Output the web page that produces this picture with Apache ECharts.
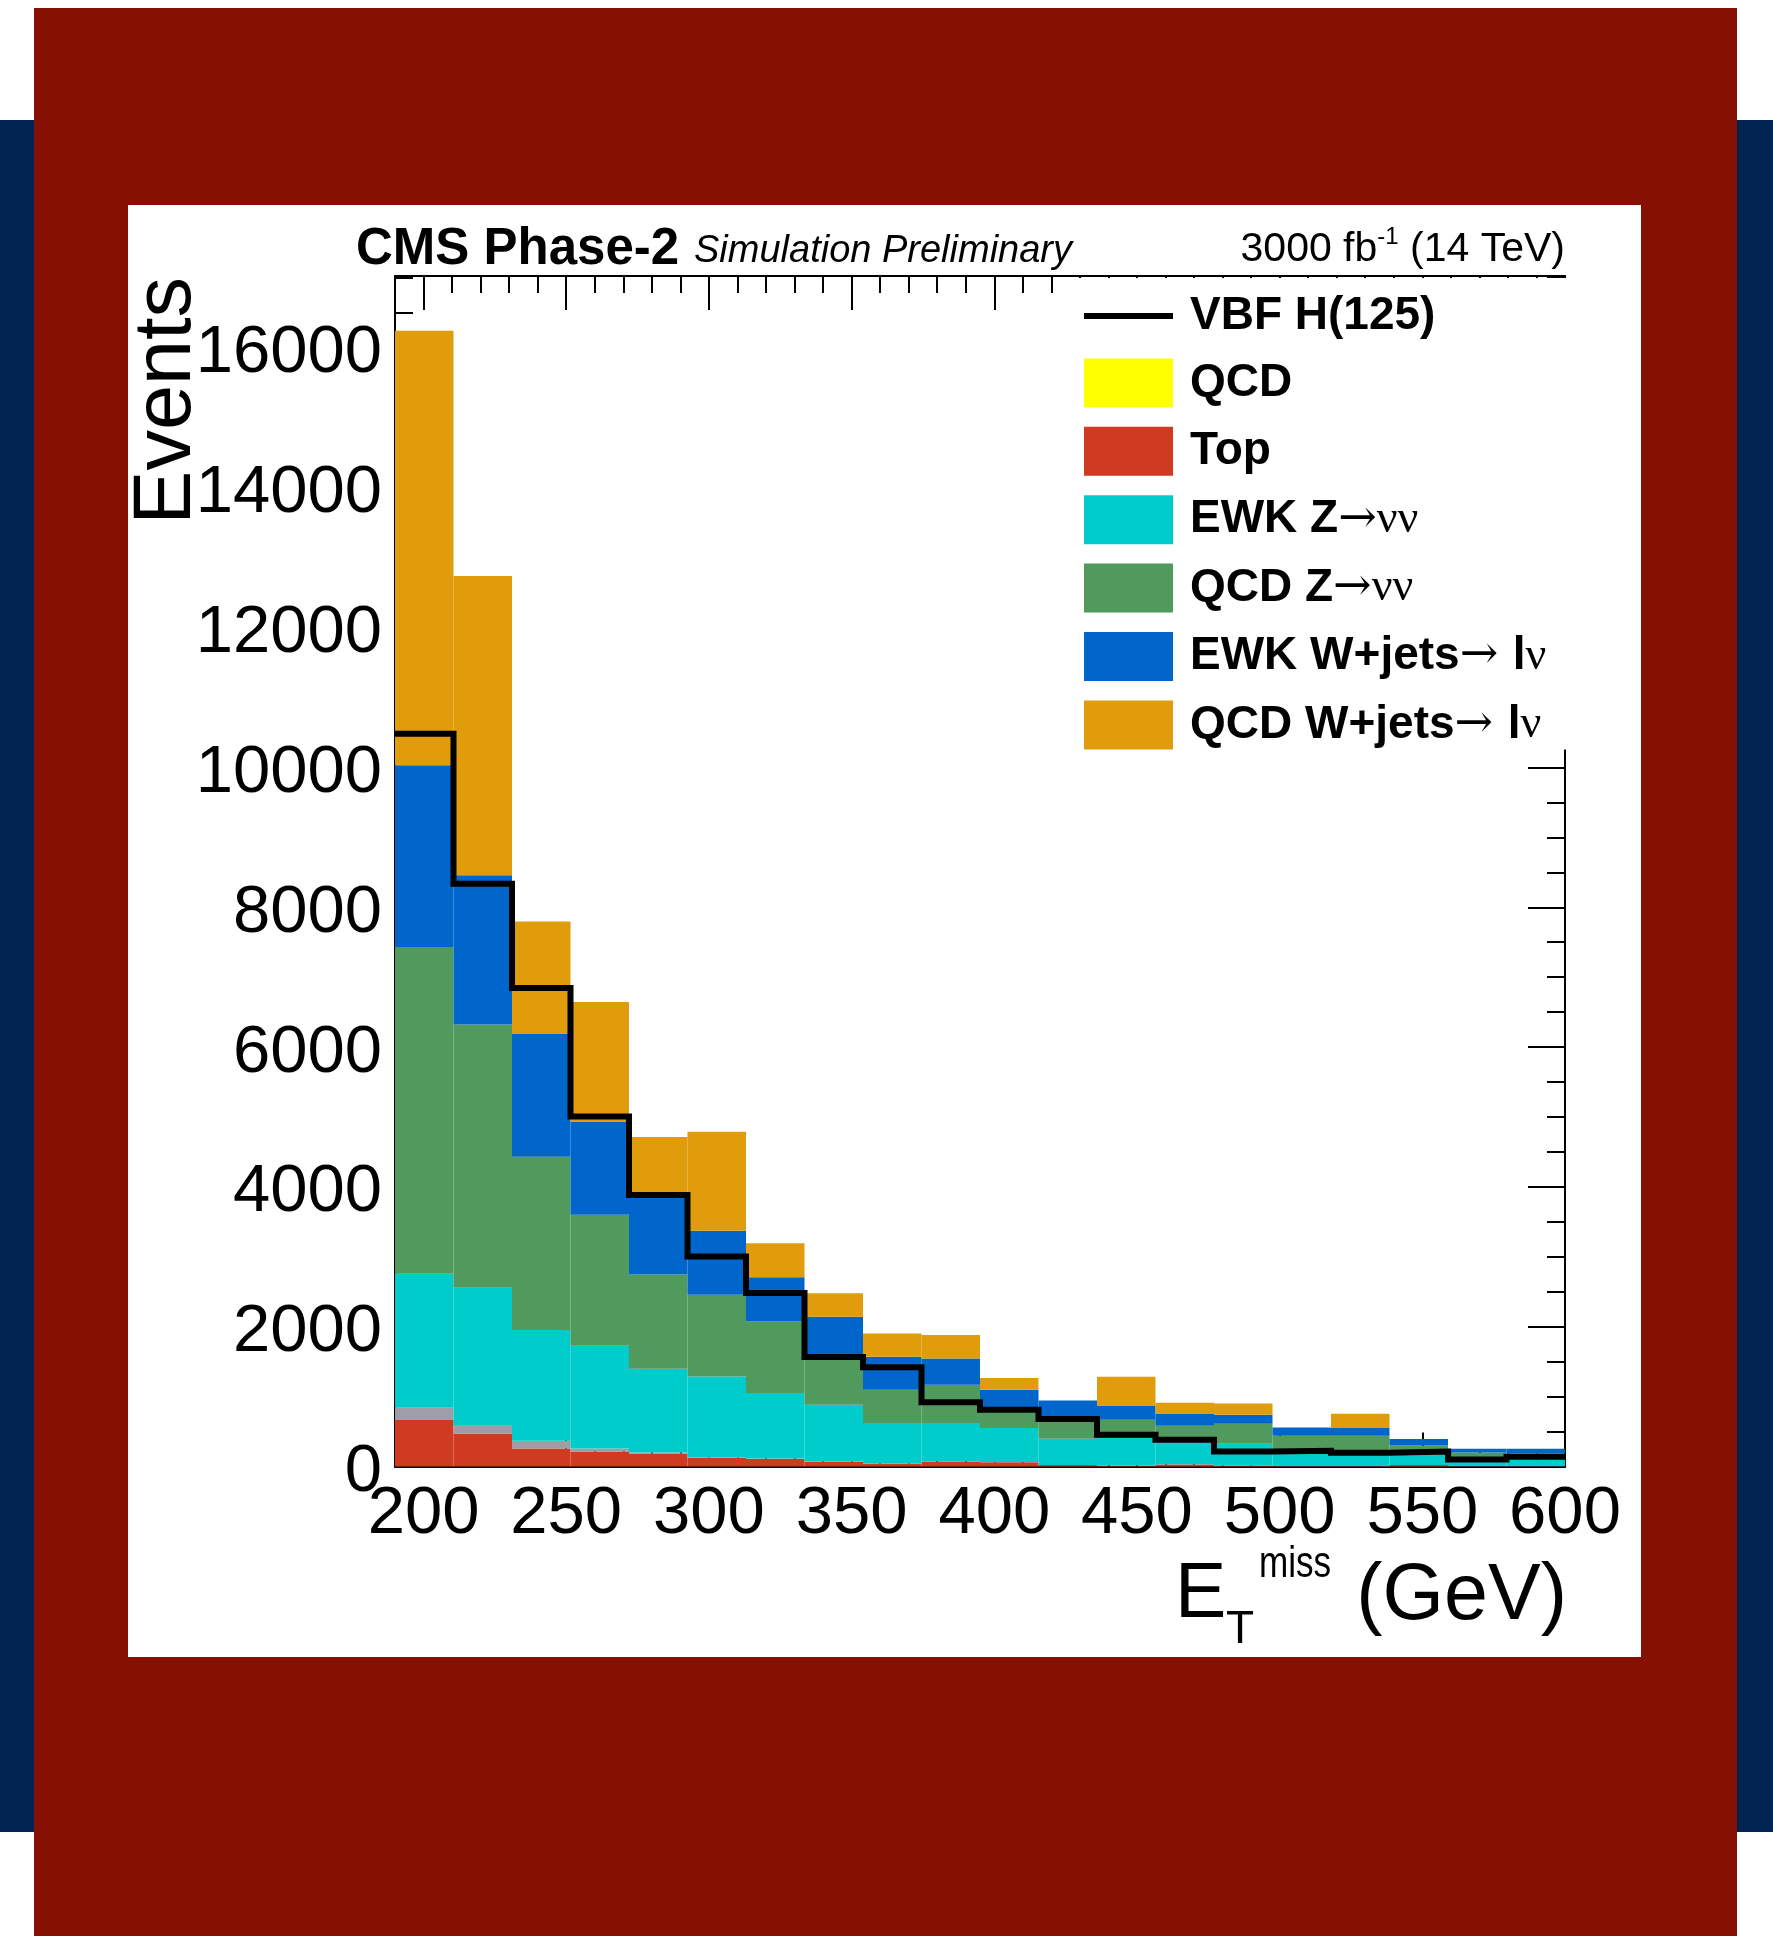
<!DOCTYPE html>
<html>
<head>
<meta charset="utf-8">
<script src="https://cdn.jsdelivr.net/npm/echarts@6/dist/echarts.min.js"></script>
<style>
html,body{margin:0;padding:0;background:#fff;width:1773px;height:1936px;overflow:hidden}
.b{position:absolute}
#chart{position:absolute;left:0;top:0;width:1773px;height:1936px}
</style>
</head>
<body>
<div class="b" style="left:0;top:120px;width:34px;height:1712px;background:#00244F"></div>
<div class="b" style="left:1737px;top:120px;width:36px;height:1712px;background:#00244F"></div>
<div class="b" style="left:34px;top:8px;width:1703px;height:1928px;background:#861002"></div>
<div class="b" style="left:128px;top:205px;width:1513px;height:1452px;background:#fff"></div>
<div id="chart"></div>
<script>
// ---- data ----
const binEdges = [190, 210.5, 231, 251.5, 272, 292.5, 313, 333.5, 354, 374.5, 395,
                  415.5, 436, 456.5, 477, 497.5, 518, 538.5, 559, 579.5, 600];
const topVals   = [664, 473, 258, 215, 186, 120, 106, 72, 35, 72, 62, 20, 15, 30, 10, 5, 5, 20, 3, 3];
const otherVals = [176, 119, 110, 43, 14, 14, 9, 6, 5, 4, 3, 2, 3, 2, 2, 1, 1, 2, 1, 1];
const ewkZVals  = [1919, 1966, 1584, 1470, 1199, 1155, 936, 805, 581, 545, 484, 375, 388, 312, 313, 244, 224, 145, 106, 101];
const qcdZVals  = [4674, 3763, 2478, 1872, 1346, 1169, 1025, 687, 477, 549, 229, 283, 263, 239, 286, 190, 210, 134, 91, 86];
const ewkWVals  = [2600, 2137, 1758, 1336, 1125, 913, 630, 573, 472, 376, 320, 265, 205, 167, 129, 119, 119, 91, 52, 62];
const qcdWVals  = [6213, 4281, 1607, 1710, 843, 1418, 488, 334, 334, 335, 167, 0, 410, 162, 162, 0, 195, 0, 0, 0];
const qcdVals   = [0, 0, 0, 0, 0, 0, 0, 0, 0, 0, 0, 0, 0, 0, 0, 0, 0, 0, 0, 0];
const signalVals = [10482, 8335, 6846, 5008, 3884, 3004, 2482, 1566, 1420, 919, 812, 678, 454, 382, 215, 225, 195, 215, 100, 140];
const xTickValues = [200, 250, 300, 350, 400, 450, 500, 550, 600];
const yTickValues = [0, 2000, 4000, 6000, 8000, 10000, 12000, 14000, 16000];
const Y_MAX = 17030;

// ---- build ----
const categories = binEdges.slice(0, -1).map((e, i) => e + '-' + binEdges[i + 1]);
const signalData = binEdges.map((e, i) => [e, signalVals[Math.min(i, signalVals.length - 1)]]);

const FONT = '"Liberation Sans", Arial, Helvetica, sans-serif';
const SERIF = '"Liberation Serif", "DejaVu Serif", serif';
const ARROW = '"DejaVu Serif", "Liberation Serif", serif';

function barSeries(name, data, color) {
  return {
    name: name, type: 'bar', stack: 'bkg', data: data,
    xAxisIndex: 0, yAxisIndex: 0,
    barCategoryGap: '0%', barGap: '0%',
    itemStyle: { color: color, borderWidth: 0 },
    emphasis: { disabled: true }, silent: true
  };
}

const legendRich = {
  'VBF H(125)': '{b|VBF H(125)}',
  'QCD': '{b|QCD}',
  'Top': '{b|Top}',
  'EWK Z→νν': '{b|EWK Z}{a|→}{s|νν}',
  'QCD Z→νν': '{b|QCD Z}{a|→}{s|νν}',
  'EWK W+jets→ lν': '{b|EWK W+jets}{a|→ }{b|l}{s|ν}',
  'QCD W+jets→ lν': '{b|QCD W+jets}{a|→ }{b|l}{s|ν}'
};

const axisLineStyle = { color: '#000', width: 2 };
const tickStyle = { color: '#000', width: 2 };

function xAxisDef(pos, major) {
  const a = {
    type: 'value', min: 190, max: 600, position: pos,
    axisLine: { show: major, onZero: false, lineStyle: axisLineStyle },
    splitLine: { show: false },
    axisLabel: { show: false },
    axisTick: { show: true, inside: true, length: major ? 34 : 17, lineStyle: tickStyle }
  };
  if (major) {
    a.axisTick.customValues = xTickValues;
    if (pos === 'bottom') {
      a.axisLabel = {
        show: true, customValues: xTickValues, margin: 15,
        fontFamily: FONT, fontSize: 67, color: '#000',
        formatter: v => String(v)
      };
    }
  } else {
    a.interval = 10;
  }
  return a;
}

function yAxisDef(pos, major) {
  const a = {
    type: 'value', min: 0, max: Y_MAX, position: pos,
    axisLine: { show: major, onZero: false, lineStyle: axisLineStyle },
    splitLine: { show: false },
    axisLabel: { show: false },
    axisTick: { show: true, inside: true, length: major ? 37 : 18, lineStyle: tickStyle }
  };
  if (major) {
    a.axisTick.customValues = yTickValues;
    if (pos === 'left') {
      a.axisLabel = {
        show: true, customValues: yTickValues, margin: 13,
        fontFamily: FONT, fontSize: 67, color: '#000',
        verticalAlign: 'top', lineHeight: 12,
        formatter: v => String(v)
      };
    }
  } else {
    a.interval = 500;
  }
  return a;
}

const option = {
  animation: false,
  backgroundColor: 'transparent',
  grid: { left: 395, top: 276, width: 1170, height: 1190.5, containLabel: false },
  xAxis: [
    { type: 'category', data: categories, position: 'bottom', boundaryGap: true,
      axisLine: { show: false, onZero: false }, axisTick: { show: false }, axisLabel: { show: false }, splitLine: { show: false } },
    xAxisDef('bottom', true),
    xAxisDef('bottom', false),
    xAxisDef('top', true),
    xAxisDef('top', false)
  ],
  yAxis: [
    yAxisDef('left', true),
    yAxisDef('left', false),
    yAxisDef('right', true),
    yAxisDef('right', false)
  ],
  legend: {
    orient: 'vertical', left: 1077, top: 278,
    padding: [15, 20, 0, 7],
    backgroundColor: '#fff',
    itemWidth: 89, itemHeight: 49, itemGap: 19.4,
    icon: 'rect',
    selectedMode: false,
    data: [
      { name: 'VBF H(125)', icon: 'path://M0,0H100V6.5H0Z', itemStyle: { color: '#000', borderWidth: 0 } },
      'QCD', 'Top', 'EWK Z→νν', 'QCD Z→νν', 'EWK W+jets→ lν', 'QCD W+jets→ lν'
    ],
    formatter: n => legendRich[n] || ('{b|' + n + '}'),
    textStyle: {
      padding: [0, 0, 0, 12],
      rich: {
        b: { fontFamily: FONT, fontWeight: 'bold', fontSize: 46, lineHeight: 49, color: '#000' },
        s: { fontFamily: SERIF, fontWeight: 'normal', fontSize: 46, lineHeight: 49, color: '#000' },
        a: { fontFamily: ARROW, fontWeight: 'normal', fontSize: 46, lineHeight: 49, color: '#000' }
      }
    }
  },
  series: [
    barSeries('Top', topVals, '#CF3A21'),
    barSeries('Other', otherVals, '#9C9EA8'),
    barSeries('EWK Z→νν', ewkZVals, '#00CCCC'),
    barSeries('QCD Z→νν', qcdZVals, '#4F9A5C'),
    barSeries('EWK W+jets→ lν', ewkWVals, '#0066CC'),
    barSeries('QCD W+jets→ lν', qcdWVals, '#E09C0A'),
    barSeries('QCD', qcdVals, '#FFFF00'),
    {
      name: 'VBF H(125)', type: 'line', xAxisIndex: 1, yAxisIndex: 0,
      step: 'end', symbol: 'none', showSymbol: false, silent: true,
      data: signalData,
      itemStyle: { color: '#000' },
      lineStyle: { color: '#000', width: 6, join: 'miter', cap: 'butt' },
      emphasis: { disabled: true }, z: 5
    }
  ],
  graphic: [
    { type: 'text', x: 356, y: 250, silent: true,
      style: { text: 'CMS Phase-2', font: 'bold 51px ' + FONT, fill: '#000', align: 'left', verticalAlign: 'middle' } },
    { type: 'text', x: 694, y: 251, silent: true,
      style: { text: 'Simulation Preliminary', font: 'italic 38px ' + FONT, fill: '#000', align: 'left', verticalAlign: 'middle' } },
    { type: 'text', x: 1565, y: 250, silent: true,
      style: { text: '{n|3000 fb}{u|-1}{n| (14 TeV)}', align: 'right', verticalAlign: 'middle', fill: '#000',
        rich: {
          n: { fontFamily: FONT, fontSize: 41, lineHeight: 50, fill: '#000' },
          u: { fontFamily: FONT, fontSize: 24, lineHeight: 24, verticalAlign: 'top', fill: '#000' }
        } } },
    { type: 'text', x: 168, y: 277, rotation: Math.PI / 2, silent: true,
      style: { text: 'Events', font: '81px ' + FONT, fill: '#000', align: 'right', verticalAlign: 'middle' } },
    { type: 'text', x: 1175, y: 1596, silent: true,
      style: { text: 'E', font: '77px ' + FONT, fill: '#000', align: 'left', verticalAlign: 'middle' } },
    { type: 'text', x: 1226, y: 1630, silent: true,
      style: { text: 'T', font: '46px ' + FONT, fill: '#000', align: 'left', verticalAlign: 'middle' } },
    { type: 'text', x: 1259, y: 1565, scaleX: 0.78, silent: true,
      style: { text: 'miss', font: '45px ' + FONT, fill: '#000', align: 'left', verticalAlign: 'middle' } },
    { type: 'text', x: 1567, y: 1597, silent: true,
      style: { text: '(GeV)', font: '79px ' + FONT, fill: '#000', align: 'right', verticalAlign: 'middle' } }
  ]
};

const chart = echarts.init(document.getElementById('chart'), null, { renderer: 'canvas', width: 1773, height: 1936 });
chart.setOption(option);
</script>
</body>
</html>
